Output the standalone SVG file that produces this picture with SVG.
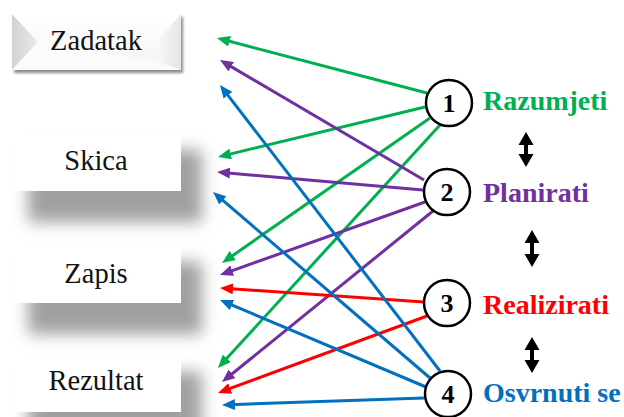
<svg xmlns="http://www.w3.org/2000/svg" width="624" height="417" viewBox="0 0 624 417">
  <style>
    .lbl { font-size: 28.5px; fill: #111; text-anchor: middle; }
    .num { font-size: 26px; font-weight: bold; fill: #000; text-anchor: middle; }
    .step { font-size: 28px; font-weight: bold; }
    .circ { fill: #fff; stroke: #000; stroke-width: 2.5; }
    .box { fill: #fff; }
    .shadow { fill: #a0a0a0; filter: url(#blurBig); }
    .ln { fill: none; stroke-width: 3; }
    .g { stroke: #00B050; marker-end: url(#mg); }
    .p { stroke: #7030A0; marker-end: url(#mp); }
    .r { stroke: #FF0000; marker-end: url(#mr); }
    .b { stroke: #0070C0; marker-end: url(#mb); }
    .dbl { fill: #000; }
  </style>
  <defs>
    <filter id="blurBig" x="-30%" y="-50%" width="160%" height="200%">
      <feGaussianBlur stdDeviation="8"/>
    </filter>
    <filter id="blurSmall" x="-10%" y="-20%" width="120%" height="140%">
      <feGaussianBlur stdDeviation="1.5"/>
    </filter>
    <linearGradient id="face" x1="0" y1="0" x2="0" y2="1">
      <stop offset="0" stop-color="#ffffff"/>
      <stop offset="1" stop-color="#f4f4f4"/>
    </linearGradient>
    <linearGradient id="leftBevel" x1="0" y1="0" x2="1" y2="0">
      <stop offset="0" stop-color="#d2d2d2"/>
      <stop offset="1" stop-color="#ebebeb"/>
    </linearGradient>
    <linearGradient id="rightBevel" x1="0" y1="0" x2="1" y2="0">
      <stop offset="0" stop-color="#f6f6f6"/>
      <stop offset="1" stop-color="#e0e0e0"/>
    </linearGradient>
    <marker id="mg" markerUnits="userSpaceOnUse" markerWidth="13" markerHeight="11" refX="5" refY="5.5" orient="auto">
      <path d="M0,0 L13,5.5 L0,11 z" fill="#00B050"/>
    </marker>
    <marker id="mp" markerUnits="userSpaceOnUse" markerWidth="13" markerHeight="11" refX="5" refY="5.5" orient="auto">
      <path d="M0,0 L13,5.5 L0,11 z" fill="#7030A0"/>
    </marker>
    <marker id="mr" markerUnits="userSpaceOnUse" markerWidth="13" markerHeight="11" refX="5" refY="5.5" orient="auto">
      <path d="M0,0 L13,5.5 L0,11 z" fill="#FF0000"/>
    </marker>
    <marker id="mb" markerUnits="userSpaceOnUse" markerWidth="13" markerHeight="11" refX="5" refY="5.5" orient="auto">
      <path d="M0,0 L13,5.5 L0,11 z" fill="#0070C0"/>
    </marker>
  </defs>

  <rect width="624" height="417" fill="#fff"/>

  <g font-family="'Liberation Serif', 'DejaVu Serif', serif">
  <!-- left boxes -->
  <g id="zadatak">
    <rect x="14" y="17" width="169" height="56" fill="#8a8a8a" filter="url(#blurSmall)"/>
    <rect x="12" y="14" width="169" height="56" fill="url(#face)"/>
    <polygon points="12,14 38,42 12,70" fill="url(#leftBevel)"/>
    <polygon points="181,14 160,38 160,62 181,70" fill="url(#rightBevel)" opacity="0.8"/>
    <polygon points="12,70 38,42 160,62 181,70" fill="#fbfbfb"/>
    <text class="lbl" x="96" y="50">Zadatak</text>
  </g>
  <g id="skica">
    <rect class="shadow" x="28" y="150" width="174" height="72"/>
    <rect class="box" x="12" y="135" width="169" height="56"/>
    <text class="lbl" x="96" y="170">Skica</text>
  </g>
  <g id="zapis">
    <rect class="shadow" x="28" y="262" width="174" height="72"/>
    <rect class="box" x="12" y="247" width="169" height="56"/>
    <text class="lbl" x="96" y="283">Zapis</text>
  </g>
  <g id="rezultat">
    <rect class="shadow" x="28" y="372" width="174" height="72"/>
    <rect class="box" x="12" y="356" width="169" height="56"/>
    <text class="lbl" x="96" y="390">Rezultat</text>
  </g>

  <!-- connectors -->
  <g id="connectors">
    <line class="ln g" x1="427" y1="93" x2="224.7" y2="40.0"/>
    <line class="ln g" x1="425" y1="107" x2="225.8" y2="155.1"/>
    <line class="ln g" x1="430" y1="118" x2="228.6" y2="258.4"/>
    <line class="ln g" x1="440" y1="125" x2="223.4" y2="362.1"/>

    <line class="ln p" x1="424" y1="180" x2="226.9" y2="64.1"/>
    <line class="ln p" x1="423" y1="190" x2="225.0" y2="172.7"/>
    <line class="ln p" x1="425" y1="202" x2="227.5" y2="272.3"/>
    <line class="ln p" x1="433" y1="211" x2="228.2" y2="377.0"/>

    <line class="ln r" x1="424" y1="302" x2="228.0" y2="288.5"/>
    <line class="ln r" x1="427" y1="316" x2="225.5" y2="390.2"/>

    <line class="ln b" x1="440" y1="371" x2="224.9" y2="91.3"/>
    <line class="ln b" x1="430" y1="378" x2="219.1" y2="197.2"/>
    <line class="ln b" x1="426" y1="387" x2="227.4" y2="303.1"/>
    <line class="ln b" x1="424" y1="398" x2="230.0" y2="404.7"/>
  </g>

  <!-- step nodes -->
  <g id="step1">
    <circle class="circ" cx="449" cy="103" r="23"/>
    <text class="num" x="449" y="112">1</text>
    <text class="step" x="483" y="110" fill="#00B050">Razumjeti</text>
  </g>
  <g id="step2">
    <circle class="circ" cx="447" cy="192" r="23"/>
    <text class="num" x="447" y="201">2</text>
    <text class="step" x="483" y="202" fill="#7030A0">Planirati</text>
  </g>
  <g id="step3">
    <circle class="circ" cx="447" cy="303" r="23"/>
    <text class="num" x="447" y="312">3</text>
    <text class="step" x="483" y="314" fill="#FF0000">Realizirati</text>
  </g>
  <g id="step4">
    <circle class="circ" cx="448" cy="394" r="23"/>
    <text class="num" x="448" y="403">4</text>
    <text class="step" x="483" y="402" fill="#0070C0">Osvrnuti se</text>
  </g>

  <!-- double arrows -->
  <g id="dbl1">
    <path class="dbl" d="M526,132 L533.5,145 L528,145 L528,154 L533.5,154 L526,167 L518.5,154 L524,154 L524,145 L518.5,145 Z"/>
  </g>
  <g id="dbl2">
    <path class="dbl" d="M532,230 L539.5,243 L534,243 L534,254 L539.5,254 L532,267 L524.5,254 L530,254 L530,243 L524.5,243 Z"/>
  </g>
  <g id="dbl3">
    <path class="dbl" d="M532,337 L539.5,350 L534,350 L534,360 L539.5,360 L532,373 L524.5,360 L530,360 L530,350 L524.5,350 Z"/>
  </g>
  </g>
</svg>
